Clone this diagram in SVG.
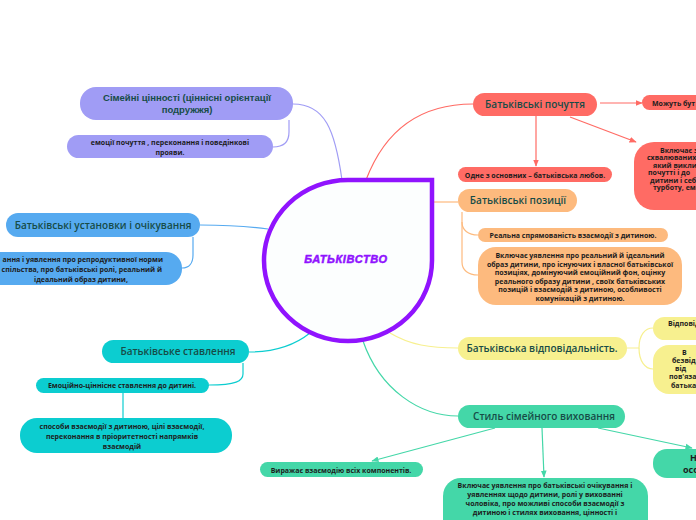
<svg xmlns="http://www.w3.org/2000/svg" width="696" height="520" viewBox="0 0 696 520">
<defs>
<style>
.t{font-family:"Open Sans","Liberation Sans",sans-serif;font-size:10px;font-weight:600;fill:#174c47;text-anchor:middle}
.c{font-family:"Open Sans","Liberation Sans",sans-serif;font-size:7px;font-weight:700;fill:#1d1d1d;text-anchor:middle}
.cs{font-family:"Open Sans","Liberation Sans",sans-serif;font-size:7px;font-weight:700;fill:#1d1d1d}
.ln{fill:none;stroke-width:1.2}
</style>
<marker id="ar" viewBox="0 0 10 10" refX="9" refY="5" markerWidth="6" markerHeight="6" orient="auto"><path d="M0,1 L10,5 L0,9 Z" fill="#ff6b64"/></marker>
<marker id="ag" viewBox="0 0 10 10" refX="9" refY="5" markerWidth="6" markerHeight="6" orient="auto"><path d="M0,1 L10,5 L0,9 Z" fill="#44d7a8"/></marker>
</defs>
<rect width="696" height="520" fill="#ffffff"/>
<g id="connectors">
<path class="ln" stroke="#a09cf5" d="M342,180 C335,130 325,104 293,104"/>
<path class="ln" stroke="#a09cf5" d="M289,120 V132 C289,142 283,147 273,147"/>
<path class="ln" stroke="#56aaf0" d="M268,229 C240,225 220,225 200,225"/>
<path class="ln" stroke="#56aaf0" d="M193,237 V255 C193,263 189,268 182,268"/>
<path class="ln" stroke="#0ccdd0" d="M310,333 C295,345 275,352 249,352"/>
<path class="ln" stroke="#0ccdd0" d="M243,363 V374 C243,381 236,385 209,385"/>
<path class="ln" stroke="#0ccdd0" d="M123,393 V418"/>
<path class="ln" stroke="#ff6b64" d="M366,180 C385,130 420,104 473,104"/>
<path class="ln" stroke="#ff6b64" marker-end="url(#ar)" d="M600,103 H642"/>
<path class="ln" stroke="#ff6b64" marker-end="url(#ar)" d="M536,116 V166"/>
<path class="ln" stroke="#ff6b64" marker-end="url(#ar)" d="M570,117 L636,142"/>
<path class="ln" stroke="#fdba7e" d="M432,202 H458"/>
<path class="ln" stroke="#fdba7e" d="M462,212 V222 C462,230 468,235 478,235"/>
<path class="ln" stroke="#fdba7e" d="M462,222 V262 C462,270 468,275 478,275"/>
<path class="ln" stroke="#f7f08f" d="M390,333 C410,345 430,348 458,348"/>
<path class="ln" stroke="#f7f08f" d="M627,348 H639 C639,335 645,328 653,328"/>
<path class="ln" stroke="#f7f08f" d="M639,348 C639,361 645,369 653,369"/>
<path class="ln" stroke="#44d7a8" d="M363,341 C380,390 420,416 458,416"/>
<path class="ln" stroke="#44d7a8" marker-end="url(#ag)" d="M495,428 L372,461"/>
<path class="ln" stroke="#44d7a8" marker-end="url(#ag)" d="M542,428 L544,477"/>
<path class="ln" stroke="#44d7a8" marker-end="url(#ag)" d="M598,428 L692,448"/>
</g>
<g id="center">
<path d="M348,180 H432 V260.5 A84,80.5 0 0 1 348,341 A84,80.5 0 0 1 264,260.5 A84,80.5 0 0 1 348,180 Z" fill="#fcfefe" stroke="#9013fe" stroke-width="4.5"/>
<text x="346" y="263" font-family="'Liberation Sans',sans-serif" font-size="11" font-weight="bold" font-style="italic" fill="#9013fe" stroke="#9013fe" stroke-width="0.5" text-anchor="middle" letter-spacing="0.6">БАТЬКІВСТВО</text>
</g>
<g id="n-values">
<rect x="80" y="87" width="213" height="33" rx="16" fill="#a09cf5"/>
<text class="t" x="187" y="101" style="font-family:'Liberation Sans',sans-serif;font-weight:700;font-size:9.5px">Сімейні цінності (ціннісні орієнтації</text>
<text class="t" x="187" y="113" style="font-family:'Liberation Sans',sans-serif;font-weight:700;font-size:9.5px">подружжя)</text>
</g>
<g id="n-values-1">
<rect x="67" y="135" width="206" height="23" rx="11.5" fill="#a09cf5"/>
<text class="c" x="170" y="145">емоції почуття , переконання і поведінкові</text>
<text class="c" x="170" y="155">прояви.</text>
</g>
<g id="n-attitudes">
<rect x="6" y="213" width="194" height="24" rx="12" fill="#56aaf0"/>
<text class="t" x="103" y="229">Батьківські установки і очікування</text>
</g>
<g id="n-attitudes-1">
<rect x="-40" y="252" width="222" height="33" rx="16" fill="#56aaf0"/>
<text class="cs" x="163" y="262" text-anchor="end">ання і уявлення про репродуктивної норми</text>
<text class="cs" x="162" y="272" text-anchor="end">спільства, про батьківські ролі, реальний й</text>
<text class="c" x="81" y="282">ідеальний образ дитини,</text>
</g>
<g id="n-relation">
<rect x="102" y="340" width="147" height="23" rx="11.5" fill="#0ccdd0"/>
<text class="t" x="178" y="355">Батьківське ставлення</text>
</g>
<g id="n-relation-1">
<rect x="36" y="378" width="173" height="15" rx="7.5" fill="#0ccdd0"/>
<text class="c" x="122" y="388">Емоційно-ціннісне ставлення до дитині.</text>
</g>
<g id="n-relation-2">
<rect x="20" y="418" width="212" height="35" rx="17" fill="#0ccdd0"/>
<text class="c" x="122" y="429">способи взаємодії з дитиною, цілі взаємодії,</text>
<text class="c" x="122" y="439">переконання в пріоритетності напрямків</text>
<text class="c" x="122" y="449">взаємодій</text>
</g>
<g id="n-feelings">
<rect x="473" y="93" width="124" height="23" rx="11.5" fill="#ff6b64"/>
<text class="t" x="535" y="108">Батьківські почуття</text>
</g>
<g id="n-feelings-1">
<rect x="642" y="95" width="70" height="15" rx="7.5" fill="#ff6b64"/>
<text class="cs" x="652" y="105.5">Можуть бут</text>
</g>
<g id="n-feelings-2">
<rect x="458" y="167" width="154" height="15" rx="7.5" fill="#ff6b64"/>
<text class="c" x="535" y="177.5">Одне з основних – батьківська любов.</text>
</g>
<g id="n-feelings-3">
<rect x="634" y="142" width="90" height="68" rx="20" fill="#ff6b64"/>
<text class="cs" x="660" y="152.5">Включає з</text>
<text class="cs" x="647" y="160">схвалюваних п</text>
<text class="cs" x="653" y="167.5">який виклик</text>
<text class="cs" x="648" y="175">почутті і до</text>
<text class="cs" x="650" y="182.5">дитини і себ</text>
<text class="cs" x="653" y="190">турботу, емо</text>
</g>
<g id="n-positions">
<rect x="458" y="189" width="119" height="23" rx="11.5" fill="#fdba7e"/>
<text class="t" x="518" y="204">Батьківські позиції</text>
</g>
<g id="n-positions-1">
<rect x="478" y="228" width="190" height="14" rx="7" fill="#fdba7e"/>
<text class="c" x="573" y="238">Реальна спрямованість взаємодії з дитиною.</text>
</g>
<g id="n-positions-2">
<rect x="478" y="247" width="204" height="58" rx="18" fill="#fdba7e"/>
<text class="c" x="580" y="258">Включає уявлення про реальний й ідеальний</text>
<text class="c" x="580" y="266.5">образ дитини, про існуючих і власної батьківської</text>
<text class="c" x="580" y="275">позиціях, домінуючий емоційний фон, оцінку</text>
<text class="c" x="580" y="283.5">реального образу дитини , своїх батьківських</text>
<text class="c" x="580" y="292">позицій і взаємодій з дитиною, особливості</text>
<text class="c" x="580" y="300.5">комунікацій з дитиною.</text>
</g>
<g id="n-responsibility">
<rect x="458" y="337" width="169" height="23" rx="11.5" fill="#f7f08f"/>
<text class="t" x="542" y="352">Батьківська відповідальність.</text>
</g>
<g id="n-responsibility-1">
<rect x="653" y="317" width="70" height="23" rx="11.5" fill="#f7f08f"/>
<text class="cs" x="668" y="326">Відповід</text>
</g>
<g id="n-responsibility-2">
<rect x="653" y="345" width="70" height="49" rx="16" fill="#f7f08f"/>
<text class="cs" x="682" y="355">В</text>
<text class="cs" x="672" y="362.5">безвід</text>
<text class="cs" x="675" y="371">від</text>
<text class="cs" x="669" y="379">пов'яза</text>
<text class="cs" x="671" y="388">батька</text>
</g>
<g id="n-style">
<rect x="458" y="405" width="167" height="23" rx="11.5" fill="#44d7a8"/>
<text class="t" x="544" y="420">Стиль сімейного виховання</text>
</g>
<g id="n-style-1">
<rect x="260" y="462" width="163" height="15" rx="7.5" fill="#44d7a8"/>
<text class="c" x="341" y="472.5">Виражає взаємодію всіх компонентів.</text>
</g>
<g id="n-style-2">
<rect x="443" y="478" width="205" height="60" rx="18" fill="#44d7a8"/>
<text class="c" x="545" y="488">Включає уявлення про батьківські очікування і</text>
<text class="c" x="545" y="497">уявленнях щодо дитини, ролі у вихованні</text>
<text class="c" x="545" y="506">чоловіка, про можливі способи взаємодії з</text>
<text class="c" x="545" y="515">дитиною і стилях виховання, цінності і</text>
</g>
<g id="n-style-3">
<rect x="653" y="449" width="70" height="29" rx="14" fill="#44d7a8"/>
<text class="cs" x="690" y="461" style="font-size:9px">Н</text>
<text class="cs" x="683" y="473" style="font-size:9px">осо</text>
</g>
</svg>
